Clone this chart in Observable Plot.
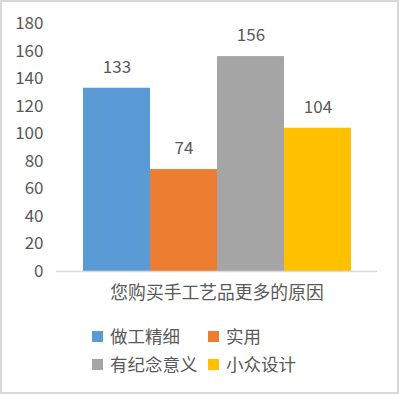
<!DOCTYPE html>
<html>
<head>
<meta charset="utf-8">
<script src="https://cdn.jsdelivr.net/npm/d3@7"></script>
<script src="https://cdn.jsdelivr.net/npm/@observablehq/plot@0.6"></script>
<style>
  html, body { margin: 0; padding: 0; background: #fff; }
  #wrap { position: relative; width: 399px; height: 394px; overflow: hidden; font-family: "Noto Sans CJK SC", "Noto Sans", sans-serif; color: #595959; }
  #border { position: absolute; left: 0; top: 0; width: 399px; height: 394px; box-sizing: border-box; border: 2px solid #d9d9d9; pointer-events: none; }
  #chart { position: absolute; left: 0; top: 0; }
  .lg { position: absolute; font-size: 17.5px; line-height: 20px; white-space: nowrap; }
  .sw { position: absolute; width: 11px; height: 11px; }
</style>
</head>
<body>
<div id="wrap">
  <div id="chart"></div>
  <div id="legend"></div>
  <div id="border"></div>
</div>
<script>
const category = "您购买手工艺品更多的原因";
const series = ["做工精细", "实用", "有纪念意义", "小众设计"];
const values = [133, 74, 156, 104];
const colors = ["#5B9BD5", "#ED7D31", "#A5A5A5", "#FFC000"];
const yTicks = [0, 20, 40, 60, 80, 100, 120, 140, 160, 180];

const data = series.map((s, i) => ({series: s, value: values[i]}));
const font = "'Noto Sans CJK SC', 'Noto Sans', sans-serif";

const plot = Plot.plot({
  width: 399,
  height: 310,
  marginTop: 23,
  marginBottom: 39,
  marginLeft: 56,
  marginRight: 22,
  style: {fontFamily: font, fontSize: "17px", color: "#595959", background: "transparent"},
  x: {type: "band", domain: series, range: [82, 351], padding: 0, axis: null},
  y: {domain: [0, 180], ticks: yTicks, label: null},
  color: {domain: series, range: colors},
  marks: [
    Plot.axisY({ticks: yTicks, tickSize: 0, tickPadding: 13, label: null, fill: "#595959", fontSize: 17}),
    Plot.barY(data, {x: "series", y: "value", fill: "series", insetLeft: 0, insetRight: 0}),
    Plot.ruleY([0], {stroke: "#d9d9d9", strokeWidth: 1.5}),
    Plot.text(data, {x: "series", y: "value", text: d => String(d.value), dy: -21, fill: "#595959", fontSize: 17}),
    Plot.text([category], {frameAnchor: "bottom", lineAnchor: "middle", dy: 22, text: d => d, fill: "#595959", fontSize: 17.8})
  ]
});
document.getElementById("chart").appendChild(plot);

// legend
const legend = document.getElementById("legend");
const pos = [[92, 337], [208, 337], [92, 365], [208, 365]];
series.forEach((s, i) => {
  const [x, cy] = pos[i];
  const sw = document.createElement("div");
  sw.className = "sw";
  sw.style.left = x + "px";
  sw.style.top = (cy - 6) + "px";
  sw.style.background = colors[i];
  legend.appendChild(sw);
  const t = document.createElement("div");
  t.className = "lg";
  t.style.left = (x + 18) + "px";
  t.style.top = (cy - 11) + "px";
  t.textContent = s;
  legend.appendChild(t);
});
</script>
</body>
</html>
